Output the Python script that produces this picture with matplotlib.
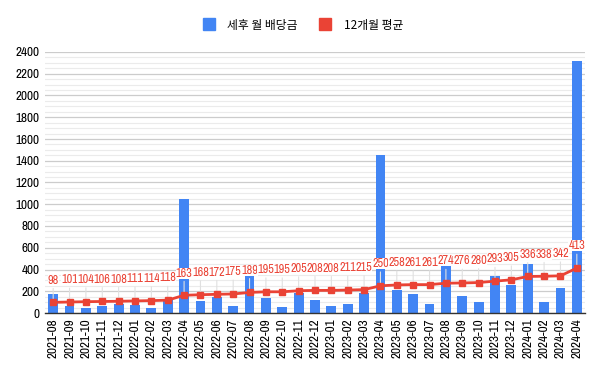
import matplotlib
matplotlib.use("Agg")
import matplotlib.pyplot as plt
from matplotlib.ticker import MultipleLocator
from matplotlib import font_manager

# Months shown on the x axis
months = [
    "2021-08", "2021-09", "2021-10", "2021-11", "2021-12",
    "2022-01", "2022-02", "2022-03", "2022-04", "2022-05", "2022-06",
    "2202-07", "2022-08", "2022-09", "2022-10", "2022-11", "2022-12",
    "2023-01", "2023-02", "2023-03", "2023-04", "2023-05", "2023-06",
    "2023-07", "2023-08", "2023-09", "2023-10", "2023-11", "2023-12",
    "2024-01", "2024-02", "2024-03", "2024-04",
]

# After-tax monthly dividend (bars)
monthly_dividend = [
    175, 68, 49, 68, 83, 74, 49, 132, 1045, 114, 151,
    65, 344, 141, 58, 184, 123, 68, 86, 184, 1455, 215,
    178, 86, 440, 160, 104, 344, 261, 446, 104, 234, 2320,
]

# 12-month average (line)
avg_12m = [
    98, 101, 104, 106, 108, 111, 114, 118, 163, 168, 172,
    175, 189, 195, 195, 205, 208, 208, 211, 215, 250, 258,
    261, 261, 274, 276, 280, 293, 305, 336, 338, 342, 413,
]

BLUE = "#4285F4"
RED = "#EA4335"

# pick a narrow latin font if one is around
installed = {f.name for f in font_manager.fontManager.ttflist}
narrow = None
for cand in ["Liberation Sans Narrow", "Arimo Narrow", "Archivo Narrow",
             "Roboto Condensed", "PT Sans Narrow", "Open Sans Condensed"]:
    if cand in installed:
        narrow = cand
        break
if narrow is None:
    narrow = "Liberation Sans"
    fs, lfs = 7.5, 7
else:
    fs, lfs = 9.5, 8.8
plt.rcParams["font.family"] = [narrow, "Noto Sans CJK KR", "DejaVu Sans"]

fig = plt.figure(figsize=(6.0, 3.71), dpi=100)
ax = fig.add_axes([45 / 600, 1 - 313 / 371, 540 / 600, 261 / 371])

x = list(range(len(months)))
ax.bar(x, monthly_dividend, width=0.6, color=BLUE, zorder=2)
ax.plot(x, avg_12m, color=RED, lw=2, marker="s", ms=5, zorder=4)

for xi, v in zip(x, avg_12m):
    ax.annotate("", xy=(xi, v), xytext=(0, 12), textcoords="offset points",
                arrowprops=dict(arrowstyle="-", color="#e0e0e0", lw=0.8), zorder=3)
    ax.annotate(str(v), xy=(xi, v), xytext=(0, 16), textcoords="offset points",
                ha="center", va="center", color=RED, fontsize=lfs, zorder=5,
                bbox=dict(boxstyle="square,pad=0.0", fc="white", ec="none"))

ax.set_xlim(-0.5, len(months) - 0.5)
ax.set_ylim(0, 2400)
ax.yaxis.set_major_locator(MultipleLocator(200))
ax.yaxis.set_minor_locator(MultipleLocator(50))
ax.grid(axis="y", which="major", color="#cccccc", lw=0.9, zorder=0)
ax.grid(axis="y", which="minor", color="#ebebeb", lw=0.8, zorder=0)
ax.set_axisbelow(True)

ax.set_xticks(x)
ax.set_xticklabels(months, rotation=90, fontsize=fs)
ax.tick_params(axis="both", length=0, labelsize=fs, pad=4)
ax.tick_params(axis="y", which="minor", length=0)

for side in ["top", "right", "left"]:
    ax.spines[side].set_visible(False)
ax.spines["bottom"].set_color("#333333")
ax.spines["bottom"].set_linewidth(1)

handles = [
    plt.Line2D([], [], marker="s", ls="none", color=BLUE, ms=8),
    plt.Line2D([], [], marker="s", ls="none", color=RED, ms=8),
]
fig.legend(handles, ["세후 월 배당금", "12개월 평균"], loc="center",
           bbox_to_anchor=(0.5, 1 - 25 / 371), ncol=2, frameon=False,
           handletextpad=0.6, columnspacing=1.3,
           prop={"family": ["Noto Sans CJK KR", "DejaVu Sans"], "size": 8.5})

fig.savefig("out.png", dpi=100, facecolor="white")
